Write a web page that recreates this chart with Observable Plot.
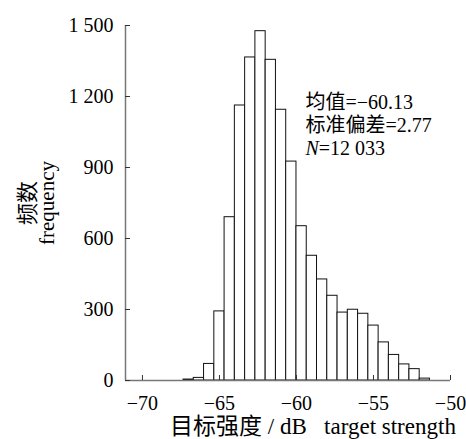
<!DOCTYPE html>
<html>
<head>
<meta charset="utf-8">
<script src="https://cdn.jsdelivr.net/npm/d3@7"></script>
<script src="https://cdn.jsdelivr.net/npm/@observablehq/plot@0.6"></script>
<style>
  html, body { margin: 0; padding: 0; background: #fff; }
  svg { font-family: "Liberation Serif", "Noto Sans CJK SC", serif; }
</style>
</head>
<body>
<div id="chart"></div>
<script>
// Histogram bins (dB): lower edges, bin width 2/3 dB
const binWidth = 2 / 3;
const binLower = [-67.333, -66.667, -66, -65.333, -64.667, -64, -63.333, -62.667, -62, -61.333,
                  -60.667, -60, -59.333, -58.667, -58, -57.333, -56.667, -56, -55.333, -54.667,
                  -54, -53.333, -52.667, -52];
const counts = [4, 11, 70, 292, 690, 1162, 1365, 1476, 1355, 1144,
                925, 652, 527, 427, 358, 287, 299, 282, 232, 161,
                108, 68, 48, 8];
const xTicks = [-70, -65, -60, -55, -50];
const yTicks = [0, 300, 600, 900, 1200, 1500];
const statLines = ["均值=−60.13", "标准偏差=2.77", "N=12 033"];
const statY = [1149, 1050, 951];
const statX = -59.42;

const bins = binLower.map((x1, i) => ({x1, x2: x1 + binWidth, y: counts[i]}));
const stats = statLines.map((t, i) => ({t, x: statX, y: statY[i]}));
const fmtY = d => d3.format(",")(d).replace(",", " ");

const plot = Plot.plot({
  width: 466,
  height: 439,
  marginLeft: 125,
  marginRight: 16,
  marginTop: 25,
  marginBottom: 59,
  style: {fontSize: "20px", fontFamily: "'Liberation Serif', 'Noto Sans CJK SC', serif", background: "#fff"},
  x: {domain: [-71.1, -50], ticks: xTicks},
  y: {domain: [0, 1500], ticks: yTicks},
  marks: [
    Plot.rectY(bins, {x1: "x1", x2: "x2", y: "y", fill: "#fff", stroke: "#111", strokeWidth: 1}),
    Plot.ruleY([0], {stroke: "#777", strokeWidth: 1.5}),
    Plot.ruleX([-71.1], {y1: 0, y2: 1500, stroke: "#777", strokeWidth: 1.5}),
    Plot.axisY({ticks: yTicks, tickSize: -5, tickFormat: () => "", stroke: "#333", label: null}),
    Plot.axisY({ticks: yTicks, tickSize: 0, tickPadding: 12, tickFormat: fmtY, fill: "#000", fontSize: 20, label: null}),
    Plot.axisX({ticks: xTicks, tickSize: -5, tickFormat: () => "", stroke: "#333", label: null}),
    Plot.axisX({ticks: xTicks, tickSize: 0, tickPadding: 15, fill: "#000", fontSize: 20, label: null}),
    Plot.text(["频数"], {frameAnchor: "left", dx: -98, rotate: -90, textAnchor: "middle", lineAnchor: "middle", fill: "#000", fontSize: 22}),
    Plot.text(["frequency"], {frameAnchor: "left", dx: -78, rotate: -90, textAnchor: "middle", lineAnchor: "middle", fill: "#000", fontSize: 21}),
    Plot.text(["目标强度 / dB\u00a0\u00a0\u00a0target strength"], {frameAnchor: "bottom", dx: 25, dy: 46.5, lineAnchor: "middle", fill: "#000", fontSize: 23}),
    Plot.text(stats, {x: "x", y: "y", text: "t", textAnchor: "start", lineAnchor: "bottom", fill: "#000", fontSize: 20})
  ]
});

// italic N in the sample-size line
d3.select(plot).selectAll("text").each(function() {
  const el = d3.select(this);
  if (el.text() === "N=12 033") {
    el.text(null);
    el.append("tspan").attr("font-style", "italic").text("N");
    el.append("tspan").text("=12 033");
  }
});

document.getElementById("chart").appendChild(plot);
</script>
</body>
</html>
